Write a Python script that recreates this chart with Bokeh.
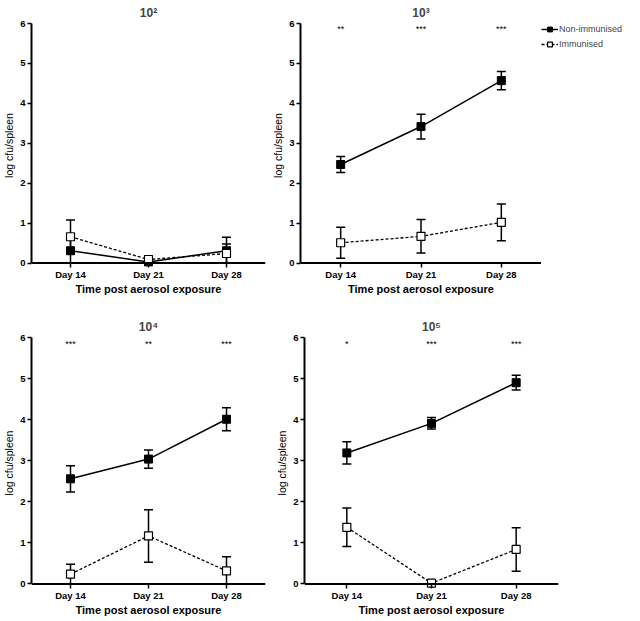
from bokeh.plotting import figure
from bokeh.models import (FactorRange, Range1d, FixedTicker, Whisker, TeeHead,
                          ColumnDataSource, Legend, LegendItem, Span)
from bokeh.layouts import column, row
from bokeh.embed import file_html
from bokeh.resources import INLINE
from bokeh.core.properties import value
import numpy as np

days = ["Day 14", "Day 21", "Day 28"]
y_ticks = [0, 1, 2, 3, 4, 5, 6]
series_names = ["Non-immunised", "Immunised"]

# 10^2
p2_non = [0.31, 0.03, 0.31]
p2_non_err = [0.30, 0.05, 0.34]
p2_imm = [0.66, 0.09, 0.24]
p2_imm_err = [0.42, 0.05, 0.24]
p2_stars = ["", "", ""]

# 10^3
p3_non = [2.47, 3.42, 4.57]
p3_non_err = [0.20, 0.31, 0.23]
p3_imm = [0.51, 0.67, 1.02]
p3_imm_err = [0.39, 0.42, 0.46]
p3_stars = ["**", "***", "***"]

# 10^4
p4_non = [2.56, 3.04, 4.01]
p4_non_err = [0.32, 0.22, 0.28]
p4_imm = [0.24, 1.17, 0.32]
p4_imm_err = [0.24, 0.64, 0.34]
p4_stars = ["***", "**", "***"]

# 10^5
p5_non = [3.19, 3.91, 4.90]
p5_non_err = [0.27, 0.14, 0.18]
p5_imm = [1.38, 0.02, 0.84]
p5_imm_err = [0.47, 0.00, 0.53]
p5_stars = ["*", "***", "***"]

star_y = 5.85
FONT = "Liberation Sans"
Y_LO = -0.11

NON_LINE = dict(line_color="black", line_width=1.5)
IMM_LINE = dict(line_color="black", line_width=1.3, line_dash="3 2")
NON_MARK = dict(marker="square", size=8, fill_color="black",
                line_color="black", line_width=1)
IMM_MARK = dict(marker="square", size=8, fill_color="white",
                line_color="black", line_width=1.2)


def make_panel(title, non, non_err, imm, imm_err, stars, width, height,
               left, right, top, bottom):
    p = figure(x_range=FactorRange(*days), y_range=Range1d(Y_LO, 6.0),
               width=width, height=height, output_backend="svg",
               toolbar_location=None, min_border_left=left,
               min_border_right=right, min_border_top=top,
               min_border_bottom=bottom, background_fill_color="white",
               border_fill_color="white", outline_line_color=None)
    p.grid.visible = False
    p.title.text = title
    p.title.align = "center"
    p.title.text_font = FONT
    p.title.text_font_size = "12px"
    p.title.text_font_style = "bold"
    p.title.standoff = 7
    p.title.offset = 0

    for ax in (p.xaxis[0], p.yaxis[0]):
        ax.axis_line_width = 2
        ax.axis_line_color = "black"
        ax.major_tick_line_width = 1.5
        ax.major_tick_line_color = "black"
        ax.minor_tick_line_color = None
        ax.major_label_text_font = FONT
        ax.major_label_text_font_size = "9.5px"
        ax.major_label_text_font_style = "bold"
        ax.axis_label_text_font = FONT
        ax.axis_label_text_font_style = "bold"
        ax.axis_label_text_color = "black"
        ax.major_label_text_color = "black"
    p.yaxis.ticker = FixedTicker(ticks=y_ticks)
    p.yaxis.bounds = (0, 6)
    p.yaxis.major_tick_in = 0
    p.yaxis.major_tick_out = 4
    p.yaxis.major_label_standoff = 2
    p.yaxis.axis_label = "log cfu/spleen"
    p.yaxis.axis_label_text_font_size = "10.5px"
    p.yaxis.axis_label_text_font_style = "normal"
    p.yaxis.axis_label_standoff = 2

    p.xaxis.axis_line_color = None
    p.xaxis.major_tick_in = 5
    p.xaxis.major_tick_out = 0
    p.xaxis.major_label_standoff = 1
    p.xaxis.axis_label = "Time post aerosol exposure"
    p.xaxis.axis_label_text_font_size = "11px"
    p.xaxis.axis_label_standoff = 0
    p.add_layout(Span(location=0, dimension="width", line_color="black",
                      line_width=2))

    non = np.array(non)
    non_err = np.array(non_err)
    imm = np.array(imm)
    imm_err = np.array(imm_err)
    src_n = ColumnDataSource(dict(x=days, y=non,
                                  upper=non + non_err,
                                  lower=np.maximum(non - non_err, 0)))
    src_i = ColumnDataSource(dict(x=days, y=imm,
                                  upper=imm + imm_err,
                                  lower=np.maximum(imm - imm_err, 0)))
    for src in (src_n, src_i):
        w = Whisker(base="x", upper="upper", lower="lower", source=src,
                    line_width=1.5, line_color="black",
                    upper_head=TeeHead(size=9, line_width=1.5, line_color="black"),
                    lower_head=TeeHead(size=9, line_width=1.5, line_color="black"))
        p.add_layout(w)

    p.line("x", "y", source=src_n, **NON_LINE)
    p.line("x", "y", source=src_i, **IMM_LINE)
    p.scatter("x", "y", source=src_n, **NON_MARK)
    p.scatter("x", "y", source=src_i, **IMM_MARK)

    st = ColumnDataSource(dict(x=days, y=[star_y] * 3, t=stars))
    p.text("x", "y", text="t", source=st, text_align="center",
           text_baseline="middle", text_font_size="9px",
           text_font=value(FONT), text_color="black")
    return p


def make_legend(width, height, top):
    lf = figure(width=width, height=height, output_backend="svg",
                toolbar_location=None, min_border_left=0, min_border_right=0,
                min_border_top=top, min_border_bottom=0,
                x_range=Range1d(0, 1), y_range=Range1d(0, 1),
                outline_line_color=None, background_fill_color="white",
                border_fill_color="white")
    lf.axis.visible = False
    lf.grid.visible = False
    proxy = dict(x=[np.nan], y=[np.nan])
    r1 = lf.line("x", "y", source=ColumnDataSource(dict(proxy)), **NON_LINE)
    r2 = lf.scatter("x", "y", source=ColumnDataSource(dict(proxy)), **NON_MARK)
    r3 = lf.line("x", "y", source=ColumnDataSource(dict(proxy)), **IMM_LINE)
    r4 = lf.scatter("x", "y", source=ColumnDataSource(dict(proxy)), **IMM_MARK)
    leg = Legend(items=[LegendItem(label=series_names[0], renderers=[r1, r2]),
                        LegendItem(label=series_names[1], renderers=[r3, r4])],
                 location="top_left", label_text_font=FONT,
                 label_text_font_size="9px", glyph_width=17,
                 glyph_height=12, label_standoff=1, padding=0, margin=0,
                 spacing=3, border_line_color=None,
                 background_fill_alpha=0, label_height=12)
    lf.add_layout(leg)
    return lf


f1 = make_panel("10\u00b2", p2_non, p2_non_err, p2_imm, p2_imm_err, p2_stars,
                266, 306, 22, 1, 21, 39)
f2 = make_panel("10\u00b3", p3_non, p3_non_err, p3_imm, p3_imm_err, p3_stars,
                275, 306, 34, 0, 21, 39)
lg = make_legend(83, 306, 21)
f3 = make_panel("10\u2074", p4_non, p4_non_err, p4_imm, p4_imm_err, p4_stars,
                266, 313, 22, 1, 31, 31)
f4 = make_panel("10\u2075", p5_non, p5_non_err, p5_imm, p5_imm_err, p5_stars,
                358, 313, 38, 66, 31, 31)

layout = column(row(f1, f2, lg), row(f3, f4))
open("out.html", "w").write(file_html(layout, INLINE))
